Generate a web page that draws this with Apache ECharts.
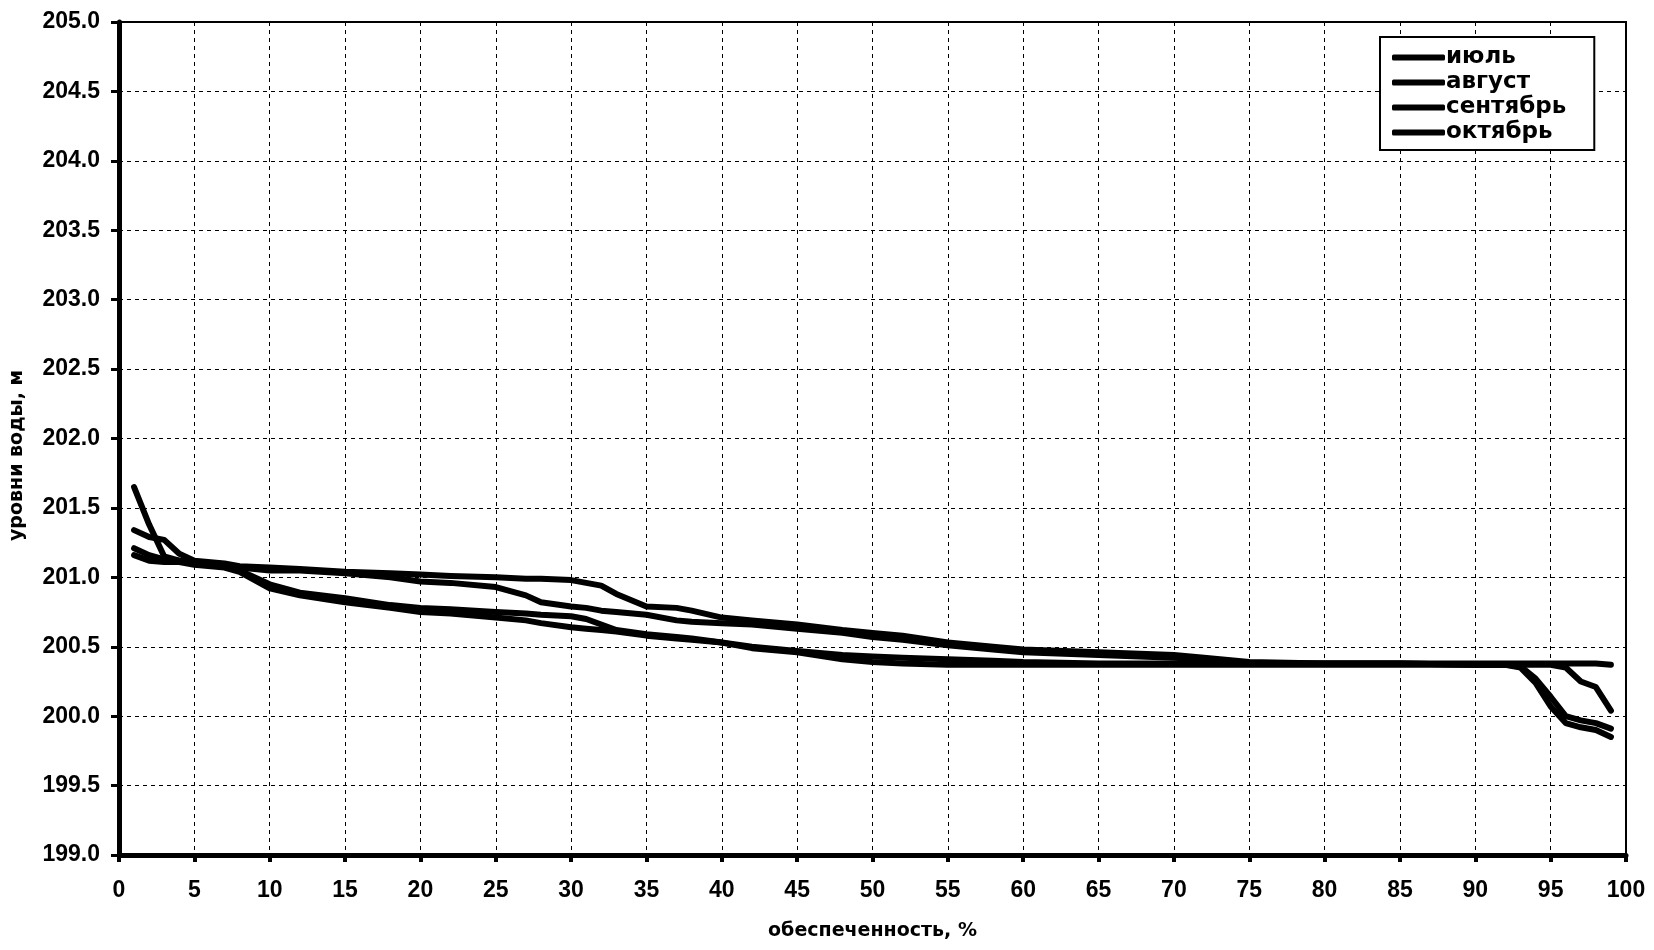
<!DOCTYPE html>
<html>
<head>
<meta charset="utf-8">
<script src="https://cdn.jsdelivr.net/npm/echarts@6/dist/echarts.min.js"></script>
<style>
html,body{margin:0;padding:0;background:#fff;}
#chart{width:1654px;height:950px;}
</style>
</head>
<body>
<div id="chart"></div>
<script>
// обеспеченность, %
const xs = [1,2,3,4,5,7,8,10,12,15,18,20,22,25,27,28,30,31,32,33,35,37,38,40,42,45,48,50,52,55,58,60,65,70,72,75,80,85,90,92,93,94,95,96,97,98,99];

const seriesNames = ['июль','август','сентябрь','октябрь'];

const july = [201.65,201.38,201.15,201.12,201.11,201.09,201.07,201.05,201.05,201.03,201.00,200.97,200.96,200.93,200.87,200.82,200.79,200.78,200.76,200.75,200.73,200.69,200.68,200.67,200.66,200.63,200.60,200.57,200.55,200.51,200.48,200.46,200.44,200.42,200.41,200.38,200.38,200.38,200.37,200.37,200.36,200.27,200.14,200.00,199.97,199.95,199.91];

const august = [201.34,201.29,201.27,201.17,201.12,201.10,201.08,201.07,201.06,201.04,201.03,201.02,201.01,201.00,200.99,200.99,200.98,200.96,200.94,200.88,200.79,200.78,200.76,200.71,200.69,200.66,200.62,200.60,200.58,200.53,200.50,200.48,200.46,200.44,200.42,200.39,200.38,200.38,200.38,200.38,200.38,200.38,200.38,200.38,200.38,200.38,200.37];

const september = [201.21,201.16,201.13,201.12,201.10,201.08,201.05,200.95,200.89,200.85,200.80,200.78,200.77,200.75,200.74,200.73,200.72,200.70,200.66,200.62,200.59,200.57,200.56,200.53,200.50,200.47,200.44,200.43,200.42,200.41,200.40,200.39,200.38,200.38,200.38,200.38,200.38,200.38,200.37,200.37,200.37,200.37,200.37,200.35,200.25,200.21,200.04];

const october = [201.16,201.12,201.11,201.11,201.09,201.07,201.04,200.92,200.87,200.82,200.78,200.75,200.74,200.71,200.69,200.67,200.64,200.63,200.62,200.61,200.58,200.56,200.55,200.53,200.49,200.46,200.41,200.39,200.38,200.37,200.37,200.37,200.37,200.37,200.37,200.37,200.37,200.37,200.37,200.37,200.35,200.24,200.07,199.95,199.92,199.90,199.85];

const yMin = 199, yMax = 205, yStep = 0.5;
const xMin = 0, xMax = 100, xStep = 5;

const FONT = '"Liberation Sans", Arial, sans-serif';
const WIDE = '"DejaVu Sans", sans-serif';
const allSeries = [july, august, september, october];

const chart = echarts.init(document.getElementById('chart'), null, {renderer:'canvas'});
chart.setOption({
  backgroundColor:'#fff',
  animation:false,
  grid:{left:119, right:28, top:22, bottom:95, show:true, borderColor:'#000', borderWidth:2,
        backgroundColor:'transparent', containLabel:false, outerBoundsMode:'none'},
  legend:{
    orient:'vertical', left:1380, top:37,
    data:seriesNames,
    icon:'roundRect', itemWidth:53, itemHeight:6, itemGap:2,
    padding:[9,28,6,12],
    borderColor:'#000', borderWidth:2, backgroundColor:'#fff',
    textStyle:{fontFamily:WIDE, fontWeight:'bold', fontSize:23, color:'#000', padding:[0,0,0,-4]}
  },
  xAxis:{
    type:'value', min:xMin, max:xMax, interval:xStep,
    name:'обеспеченность, %', nameLocation:'middle', nameGap:67,
    nameTextStyle:{fontFamily:WIDE, fontWeight:'bold', fontSize:19, color:'#000'},
    axisLine:{show:true, onZero:false, lineStyle:{color:'#000', width:5}},
    axisTick:{show:true, inside:false, length:7, lineStyle:{color:'#000', width:4}},
    axisLabel:{fontFamily:FONT, fontWeight:'bold', fontSize:23, color:'#000', margin:24},
    splitLine:{show:true, lineStyle:{color:'#000', width:1, type:[4,4]}}
  },
  yAxis:{
    type:'value', min:yMin, max:yMax, interval:yStep,
    name:'уровни воды, м', nameLocation:'middle', nameGap:92, nameRotate:90,
    nameTextStyle:{fontFamily:WIDE, fontWeight:'bold', fontSize:19, color:'#000', padding:[0,34,0,0]},
    axisLine:{show:true, onZero:false, lineStyle:{color:'#000', width:5}},
    axisTick:{show:true, inside:false, length:8, lineStyle:{color:'#000', width:3}},
    axisLabel:{fontFamily:FONT, fontWeight:'bold', fontSize:23, color:'#000', margin:19,
      formatter:v=>v.toFixed(1)},
    splitLine:{show:true, lineStyle:{color:'#000', width:1, type:[4,4]}}
  },
  series: seriesNames.map((n,i)=>({
    name:n, type:'line', showSymbol:false, symbol:'none',
    color:'#000',
    lineStyle:{color:'#000', width:6, cap:'round', join:'round'},
    data: xs.map((x,j)=>[x, allSeries[i][j]])
  }))
});
</script>
</body>
</html>
